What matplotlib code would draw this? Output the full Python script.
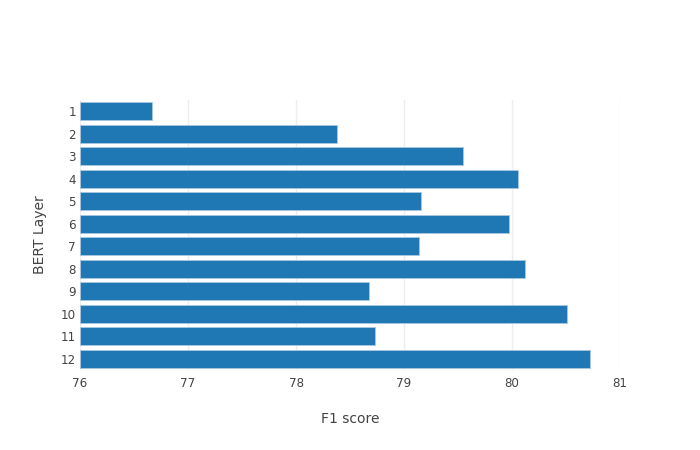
import numpy as np
import matplotlib.pyplot as plt

# F1 score per BERT layer
layers = [str(i) for i in range(1, 13)]
f1 = [76.67, 78.38, 79.55, 80.06, 79.16, 79.97, 79.14, 80.12, 78.68, 80.51, 78.73, 80.72]

plt.rcParams['font.family'] = ['DejaVu Sans']

fig = plt.figure(figsize=(7, 4.5), dpi=100)
ax = fig.add_axes([80/700, 80/450, 540/700, 270/450])

y = np.arange(len(layers))
ax.barh(y, np.array(f1) - 76, left=76, height=0.8, color='#1f77b4',
        edgecolor='#a9c8e2', linewidth=0.6, zorder=2)

ax.set_xlim(76, 81)
ax.set_ylim(len(layers) - 0.5, -0.5)
ax.set_yticks(y)
ax.set_yticklabels(layers)
ax.set_xticks([76, 77, 78, 79, 80, 81])

ax.grid(axis='x', color='#eeeeee', linewidth=1, zorder=0)
for s in ax.spines.values():
    s.set_visible(False)
ax.tick_params(length=0, colors='#444444', labelsize=8.6)
ax.tick_params(axis='y', pad=3)
ax.tick_params(axis='x', pad=5)

ax.set_xlabel('F1 score', fontsize=10, color='#444444', labelpad=16)
ax.set_ylabel('BERT Layer', fontsize=10, color='#444444', labelpad=10)

fig.savefig('out.png', dpi=100)
